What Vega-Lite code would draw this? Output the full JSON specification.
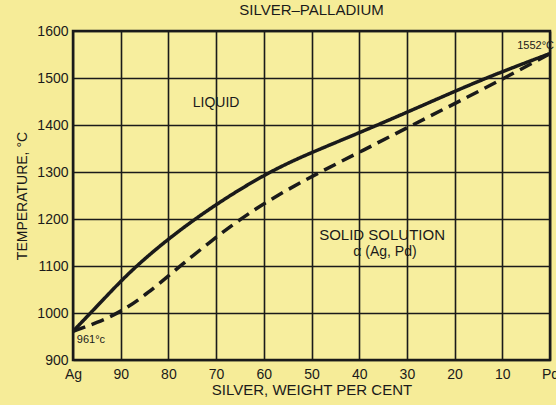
{
  "$schema": "https://vega.github.io/schema/vega-lite/v6.json",
  "width": 477,
  "height": 329,
  "autosize": {"type": "none"},
  "padding": {"left": 73, "top": 31, "right": 6, "bottom": 45},
  "background": "#F6EC98",
  "config": {
    "view": {"stroke": "#1a1a1a", "strokeWidth": 2.5, "fill": "#F7EE9E"},
    "font": "Liberation Sans"
  },
  "title": {
    "text": "SILVER–PALLADIUM",
    "fontSize": 15,
    "fontWeight": "normal",
    "color": "#1a1a1a",
    "offset": 6,
    "anchor": "middle"
  },
  "datasets": {
    "curves": [
      {"silver": 100, "temp": 961, "curve": "Liquidus"},
      {"silver": 93.5, "temp": 1030, "curve": "Liquidus"},
      {"silver": 87, "temp": 1100, "curve": "Liquidus"},
      {"silver": 74.9, "temp": 1200, "curve": "Liquidus"},
      {"silver": 59.4, "temp": 1300, "curve": "Liquidus"},
      {"silver": 48, "temp": 1350, "curve": "Liquidus"},
      {"silver": 37.7, "temp": 1393, "curve": "Liquidus"},
      {"silver": 25.5, "temp": 1447, "curve": "Liquidus"},
      {"silver": 13.6, "temp": 1500, "curve": "Liquidus"},
      {"silver": 0, "temp": 1552, "curve": "Liquidus"},
      {"silver": 100, "temp": 961, "curve": "Solidus"},
      {"silver": 95, "temp": 979, "curve": "Solidus"},
      {"silver": 90, "temp": 1002, "curve": "Solidus"},
      {"silver": 84.5, "temp": 1040, "curve": "Solidus"},
      {"silver": 77.6, "temp": 1100, "curve": "Solidus"},
      {"silver": 66.5, "temp": 1190, "curve": "Solidus"},
      {"silver": 58, "temp": 1246, "curve": "Solidus"},
      {"silver": 48.6, "temp": 1298, "curve": "Solidus"},
      {"silver": 39, "temp": 1347, "curve": "Solidus"},
      {"silver": 29.4, "temp": 1397, "curve": "Solidus"},
      {"silver": 19.5, "temp": 1448, "curve": "Solidus"},
      {"silver": 9.5, "temp": 1500, "curve": "Solidus"},
      {"silver": 0, "temp": 1552, "curve": "Solidus"}
    ],
    "centerLabels": [
      {"silver": 70, "temp": 1447, "text": "LIQUID", "size": 14},
      {"silver": 35.2, "temp": 1166, "text": "SOLID SOLUTION", "size": 15},
      {"silver": 34.6, "temp": 1130, "text": "α (Ag, Pd)", "size": 14}
    ],
    "leftLabels": [
      {"silver": 99.2, "temp": 942, "text": "961°c"}
    ],
    "rightLabels": [
      {"silver": 0, "temp": 1569, "text": "1552°C"}
    ]
  },
  "encoding": {
    "x": {
      "field": "silver",
      "type": "quantitative",
      "scale": {"domain": [0, 100], "reverse": true, "nice": false, "zero": false},
      "axis": {
        "title": "SILVER, WEIGHT PER CENT",
        "values": [100, 90, 80, 70, 60, 50, 40, 30, 20, 10, 0],
        "labelExpr": "datum.value == 100 ? 'Ag' : datum.value == 0 ? 'Pd' : datum.label",
        "grid": true,
        "gridColor": "#1a1a1a",
        "gridWidth": 1.6,
        "gridOpacity": 1,
        "domain": false,
        "ticks": false,
        "labelPadding": 7,
        "labelFontSize": 14,
        "labelColor": "#1a1a1a",
        "labelFlush": false,
        "titleFontSize": 15,
        "titleFontWeight": "normal",
        "titleColor": "#1a1a1a",
        "titlePadding": 1
      }
    },
    "y": {
      "field": "temp",
      "type": "quantitative",
      "scale": {"domain": [900, 1600], "nice": false, "zero": false},
      "axis": {
        "title": "TEMPERATURE, °C",
        "values": [900, 1000, 1100, 1200, 1300, 1400, 1500, 1600],
        "format": "d",
        "grid": true,
        "gridColor": "#1a1a1a",
        "gridWidth": 1.6,
        "gridOpacity": 1,
        "domain": false,
        "ticks": false,
        "labelPadding": 5,
        "labelFontSize": 14,
        "labelColor": "#1a1a1a",
        "labelFlush": false,
        "titleFontSize": 14,
        "titleFontWeight": "normal",
        "titleColor": "#1a1a1a",
        "titlePadding": 7
      }
    }
  },
  "layer": [
    {
      "data": {"name": "curves"},
      "mark": {"type": "line", "interpolate": "basis", "color": "#1a1a1a", "strokeWidth": 3.5},
      "encoding": {
        "detail": {"field": "curve"},
        "strokeDash": {
          "field": "curve",
          "type": "nominal",
          "scale": {"domain": ["Liquidus", "Solidus"], "range": [[1, 0], [13, 7]]},
          "legend": null
        }
      }
    },
    {
      "data": {"name": "centerLabels"},
      "mark": {"type": "text", "color": "#1a1a1a", "baseline": "middle", "align": "center"},
      "encoding": {
        "text": {"field": "text"},
        "size": {"field": "size", "type": "quantitative", "scale": null}
      }
    },
    {
      "data": {"name": "leftLabels"},
      "mark": {"type": "text", "color": "#1a1a1a", "baseline": "middle", "align": "left", "fontSize": 11},
      "encoding": {"text": {"field": "text"}}
    },
    {
      "data": {"name": "rightLabels"},
      "mark": {"type": "text", "color": "#1a1a1a", "baseline": "middle", "align": "right", "fontSize": 11, "dx": 4},
      "encoding": {"text": {"field": "text"}}
    }
  ]
}
